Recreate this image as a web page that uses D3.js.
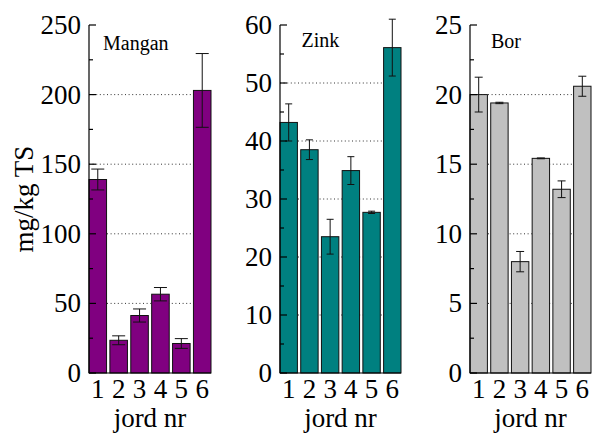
<!DOCTYPE html>
<head>
  <meta charset="utf-8">
</head>
<body style="margin:0">
  <script src="https://cdn.jsdelivr.net/npm/d3@7"></script>
  <script>

    // jord nr 1..6
    var soils = ["1", "2", "3", "4", "5", "6"];

    var manganMean = [139, 23.5, 41.3, 56.6, 21.2, 203];
    var manganErr  = [7.5, 3.2, 4.7, 4.8, 3.5, 26.5];

    var zinkMean = [43.2, 38.5, 23.5, 34.9, 27.7, 56.1];
    var zinkErr  = [3.2, 1.7, 3.0, 2.4, 0.2, 4.9];

    var borMean = [20.0, 19.4, 8.0, 15.42, 13.2, 20.6];
    var borErr  = [1.25, 0.05, 0.73, 0.03, 0.6, 0.72];

    var svg = d3.select("body").append("svg")
        .attr("width", 593)
        .attr("height", 433);

    svg.append("style").text('text { font-family: "Liberation Serif"; }');

    var top_y = 25, bottom_y = 373;

    var panels = [
      {name: "Mangan", mean: manganMean, err: manganErr, max: 250, major: 50, minor: 25,
       color: "#800080", x0: 89, x1: 211, cap: 13, lx: 103, ly: 50},
      {name: "Zink", mean: zinkMean, err: zinkErr, max: 60, major: 10, minor: 5,
       color: "#008080", x0: 280, x1: 401, cap: 7, lx: 301.5, ly: 46.5},
      {name: "Bor", mean: borMean, err: borErr, max: 25, major: 5, minor: 2.5,
       color: "#c0c0c0", x0: 470, x1: 591, cap: 8, lx: 491, ly: 48}
    ];

    function label(parent, x, y, size, txt, anchor) {
      return parent.append("text")
        .attr("x", x).attr("y", y)
        .attr("font-size", size)
        .style("font-family", '"Liberation Serif"')
        .attr("text-anchor", anchor || "start")
        .text(txt);
    }

    function hline(parent, x1, x2, yy) {
      parent.append("line")
        .attr("x1", x1).attr("x2", x2)
        .attr("y1", yy).attr("y2", yy);
    }

    function drawPanel(p) {
      var g = svg.append("g");

      var x = d3.scaleBand()
          .domain(soils)
          .range([p.x0, p.x1])
          .paddingInner(0.16)
          .paddingOuter(0);

      var y = d3.scaleLinear()
          .domain([0, p.max])
          .range([bottom_y, top_y]);

      var majors = d3.range(0, p.max + p.major / 2, p.major);
      var minors = d3.range(p.minor, p.max, p.major);

      // dotted grid, behind the bars
      var grid = g.append("g")
        .attr("stroke", "#333")
        .attr("stroke-dasharray", "1,2.6");
      majors.filter(function(v) { return v > 0 && v < p.max; })
        .forEach(function(v) { hline(grid, p.x0, p.x1, y(v)); });

      g.selectAll("rect.bar")
        .data(p.mean)
        .join("rect")
          .attr("class", "bar")
          .attr("x", function(d, i) { return x(soils[i]); })
          .attr("width", x.bandwidth())
          .attr("y", function(d) { return y(d); })
          .attr("height", function(d) { return y(0) - y(d); })
          .attr("fill", p.color)
          .attr("stroke", "#111")
          .attr("stroke-width", 1);

      // error bars
      var eb = g.append("g")
          .attr("stroke", "#111")
          .attr("stroke-width", 1);
      p.mean.forEach(function(d, i) {
        var cx = x(soils[i]) + x.bandwidth() / 2;
        eb.append("line")
          .attr("x1", cx).attr("x2", cx)
          .attr("y1", y(d - p.err[i])).attr("y2", y(d + p.err[i]));
        hline(eb, cx - p.cap / 2, cx + p.cap / 2, y(d + p.err[i]));
        hline(eb, cx - p.cap / 2, cx + p.cap / 2, y(d - p.err[i]));
      });

      // axes: left spine with inward ticks, bottom line
      var ax = g.append("g")
        .attr("stroke", "#000")
        .attr("stroke-width", 1.2);
      ax.append("line")
        .attr("x1", p.x0).attr("x2", p.x0)
        .attr("y1", y(p.max)).attr("y2", y(0));
      hline(ax, p.x0, p.x1, y(0));
      majors.forEach(function(v) { hline(ax, p.x0, p.x0 + 7, y(v)); });
      minors.forEach(function(v) { hline(ax, p.x0, p.x0 + 4, y(v)); });

      majors.forEach(function(v) {
        label(g, p.x0 - 8, y(v) + 9, 27, String(v), "end");
      });
      soils.forEach(function(s) {
        label(g, x(s) + x.bandwidth() / 2, 398, 27, s, "middle");
      });

      label(g, (p.x0 + p.x1) / 2, 427, 27, "jord nr", "middle");
      label(g, p.lx, p.ly, 20, p.name);
    }

    panels.forEach(drawPanel);

    label(svg, 0, 0, 27, "mg/kg TS", "middle")
      .attr("transform", "translate(33," + (top_y + bottom_y) / 2 + ") rotate(-90)");

  </script>
</body>
